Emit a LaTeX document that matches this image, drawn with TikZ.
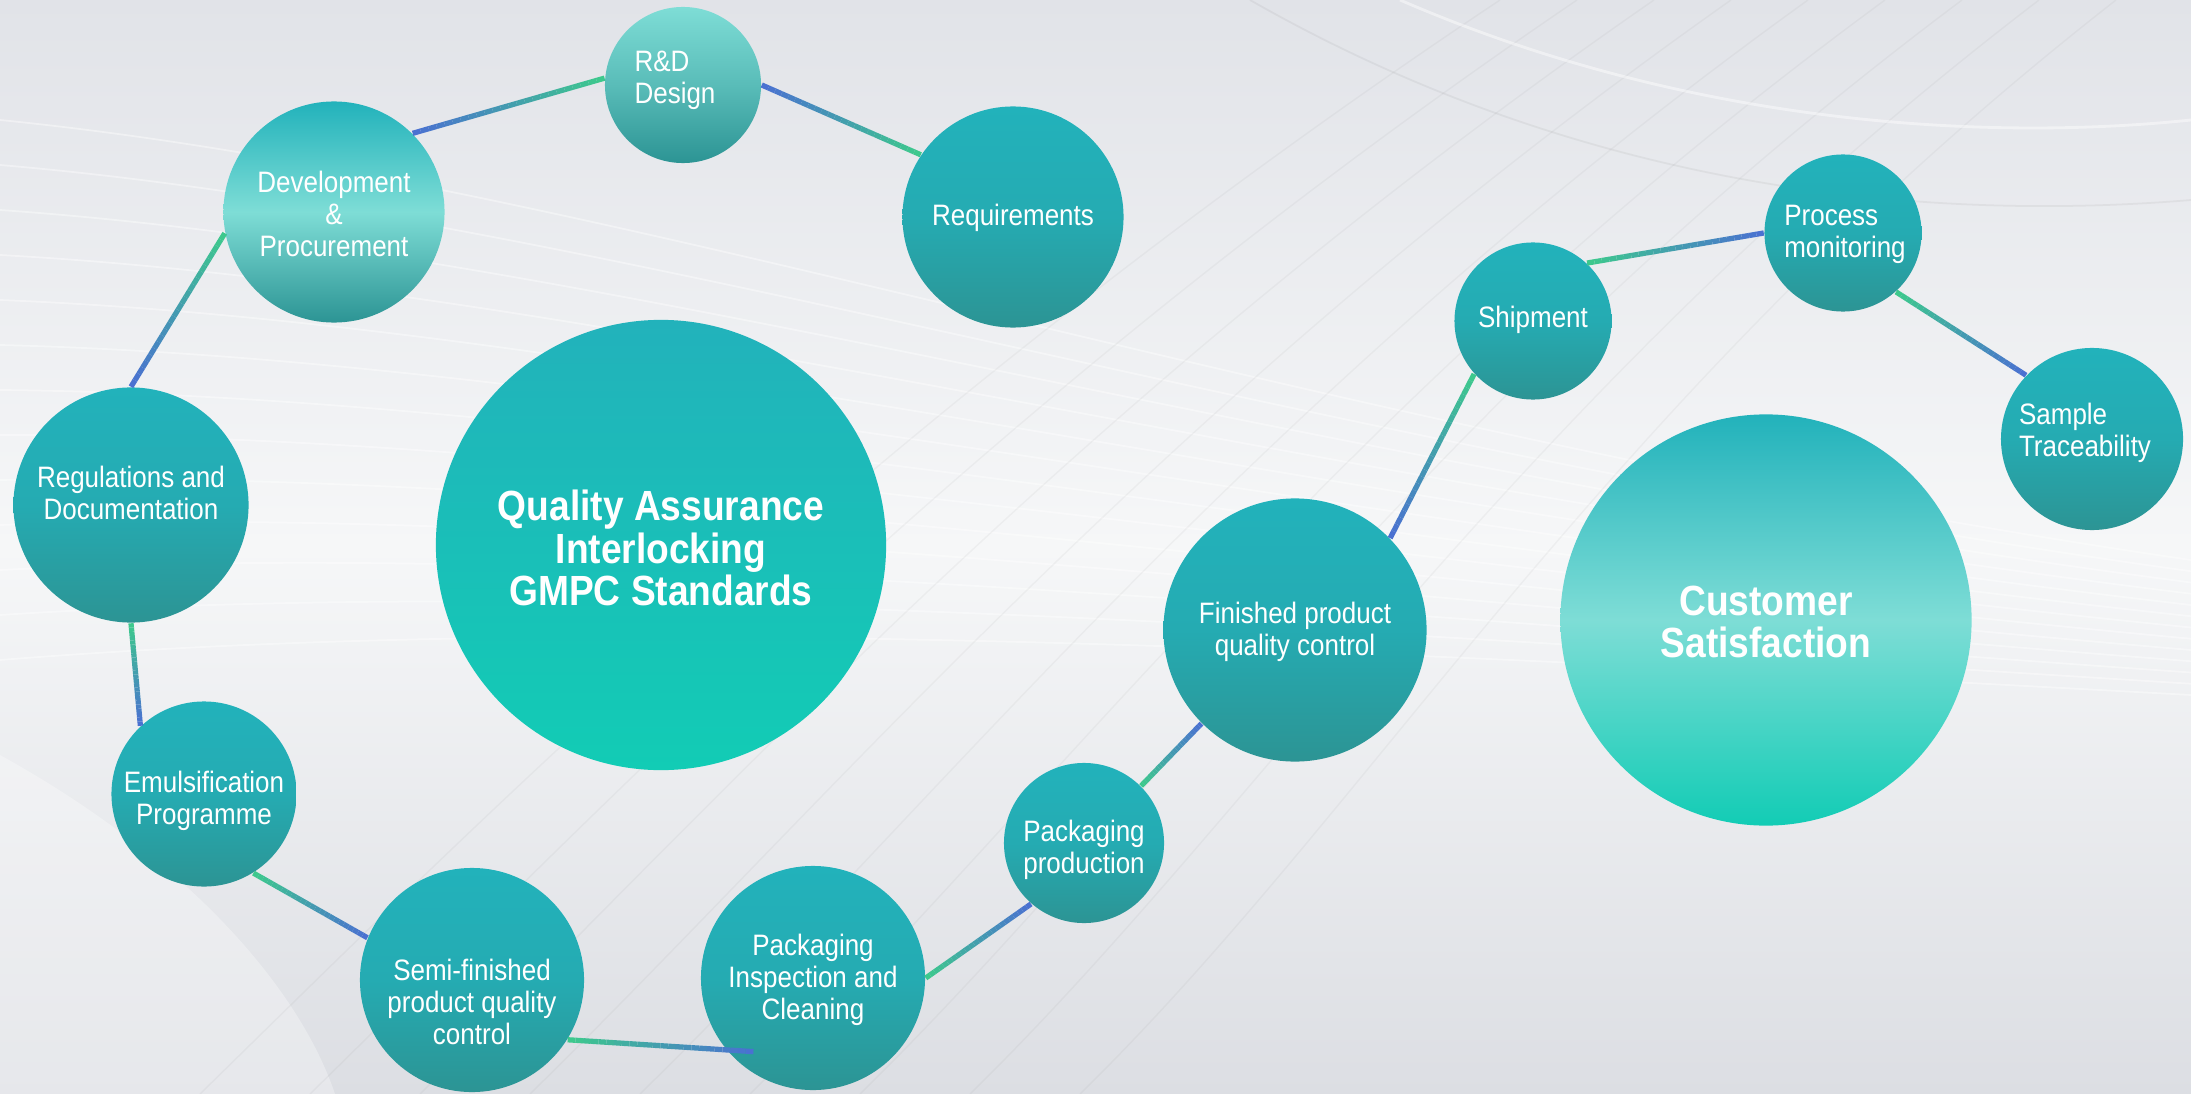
\documentclass[tikz,border=0pt]{standalone}
\usepackage{fontspec}
\setmainfont{Liberation Sans}[FakeStretch=0.88]
\usetikzlibrary{calc}

\definecolor{bgtop}{HTML}{E1E3E8}
\definecolor{bgmid}{HTML}{F6F7F8}
\definecolor{bgbot}{HTML}{DCDEE3}
\definecolor{tealtop}{HTML}{22B2BB}
\definecolor{tealmid}{HTML}{25ABB2}
\definecolor{tealbot}{HTML}{2C9494}
\definecolor{tealpale}{HTML}{7EDDD6}
\definecolor{tealmint}{HTML}{12CCB5}
\definecolor{lgreen}{HTML}{3DCB8B}
\definecolor{lblue}{HTML}{4A6FD2}

% connector, green at the first end and blue at the second
\newcommand{\glink}[2]{%
  \foreach \k in {1,...,24}{%
    \pgfmathsetmacro{\pa}{(\k-1)/24}%
    \pgfmathsetmacro{\pb}{\k/24}%
    \pgfmathtruncatemacro{\mix}{100-100*(\k-0.5)/24}%
    \draw[line width=1.5pt, draw=lgreen!\mix!lblue] ($(#1)!\pa!(#2)$) -- ($(#1)!\pb!(#2)$);
  }}

\tikzset{
  bubble/.style={circle, inner sep=0pt},
  plain/.style={bubble, top color=tealtop, bottom color=tealbot, middle color=tealmid},
  paletop/.style={bubble, top color=tealpale, bottom color=tealbot, middle color=tealpale!55!tealbot},
  palemid/.style={bubble, top color=tealtop, bottom color=tealbot, middle color=tealpale},
  mint/.style={bubble, top color=tealtop, bottom color=tealmint, middle color=tealtop!50!tealmint},
  mintmid/.style={bubble, top color=tealtop, bottom color=tealmint, middle color=tealpale},
  lbl/.style={text=white, align=center, inner sep=0pt, font=\fontsize{8.4}{9.1}\selectfont},
  big/.style={text=white, align=center, inner sep=0pt, font=\bfseries\fontsize{12}{12.2}\selectfont},
}

\begin{document}
\begin{tikzpicture}[x=0.01cm, y=-0.01cm]
  % background
  \shade[top color=bgtop, bottom color=bgbot, middle color=bgmid] (0,0) rectangle (2191,1094);
  \useasboundingbox (0,0) rectangle (2191,1094);
  \fill[white, opacity=.3] (0,755) .. controls (190,860) and (300,990) .. (335,1094) -- (0,1094) -- cycle;
  \foreach \d in {0,45,...,540}
    \draw[white, opacity=.4, line width=.5pt] (0,120+\d) .. controls (600,180+0.8*\d) and (1300,430+0.4*\d) .. (2191,560+0.25*\d);
  \foreach \d in {0,110,...,880}
    \draw[gray, opacity=.07, line width=.4pt] (200+\d,1094) .. controls (500+\d,800) and (900+0.8*\d,400) .. (1500+0.7*\d,0);
  \draw[white, opacity=.45, line width=.8pt] (1400,0) .. controls (1700,130) and (2000,140) .. (2191,120);
  \draw[gray, opacity=.1, line width=.5pt] (1250,0) .. controls (1600,200) and (1950,220) .. (2191,200);

  % bubbles
  \node[paletop, minimum size=1.56cm] (rd) at (683,85) {};
  \node[palemid, minimum size=2.21cm] (dev) at (334,212) {};
  \node[plain, minimum size=2.21cm] (req) at (1013,217) {};
  \node[plain, minimum size=2.35cm] (reg) at (131,505) {};
  \node[mint, minimum size=4.50cm] (qa) at (661,545) {};
  \node[plain, minimum size=1.85cm] (emu) at (204,794) {};
  \node[plain, minimum size=2.24cm] (semi) at (472,980) {};
  \node[plain, minimum size=2.24cm] (pic) at (813,978) {};
  \node[plain, minimum size=1.60cm] (pp) at (1084,843) {};
  \node[plain, minimum size=2.63cm] (fin) at (1295,630) {};
  \node[plain, minimum size=1.57cm] (ship) at (1533,321) {};
  \node[plain, minimum size=1.57cm] (proc) at (1843,233) {};
  \node[plain, minimum size=1.82cm] (samp) at (2092,439) {};
  \node[mintmid, minimum size=4.11cm] (cs) at (1766,620) {};

  % connectors
  \glink{rd.175}{dev.45}
  \glink{req.146}{rd.0}
  \glink{dev.191}{reg.90}
  \glink{reg.270}{emu.133}
  \glink{emu.302}{semi.158}
  \coordinate (picin) at ($(pic.center)!0.84!(pic.231)$);
  \glink{semi.328}{picin}
  \glink{pic.0}{pp.229}
  \glink{pp.45}{fin.225}
  \glink{ship.222}{fin.44}
  \glink{ship.47}{proc.180}
  \glink{proc.312}{samp.136}

  % labels
  \node[lbl, align=left] (rd-t) at (675,80) {R\&D\\Design};
  \node[lbl] (dev-t) at (334,214) {Development\\\&\\Procurement};
  \node[lbl] (req-t) at (1013,218) {Requirements};
  \node[lbl] (reg-t) at (131,493) {Regulations and\\Documentation};
  \node[big] (qa-t) at (661,548) {Quality Assurance\\Interlocking\\GMPC Standards};
  \node[lbl] (emu-t) at (204,801) {Emulsification\\Programme};
  \node[lbl] (semi-t) at (472,1002) {Semi-finished\\product quality\\control};
  \node[lbl] (pic-t) at (813,980) {Packaging\\Inspection and\\Cleaning};
  \node[lbl] (pp-t) at (1084,850) {Packaging\\production};
  \node[lbl] (fin-t) at (1295,632) {Finished product\\quality control};
  \node[lbl] (ship-t) at (1533,320) {Shipment};
  \node[lbl, align=left] (proc-t) at (1845,234) {Process\\monitoring};
  \node[lbl, align=left] (samp-t) at (2085,433) {Sample\\Traceability};
  \node[big] (cs-t) at (1766,622) {Customer\\Satisfaction};
\end{tikzpicture}
\end{document}
